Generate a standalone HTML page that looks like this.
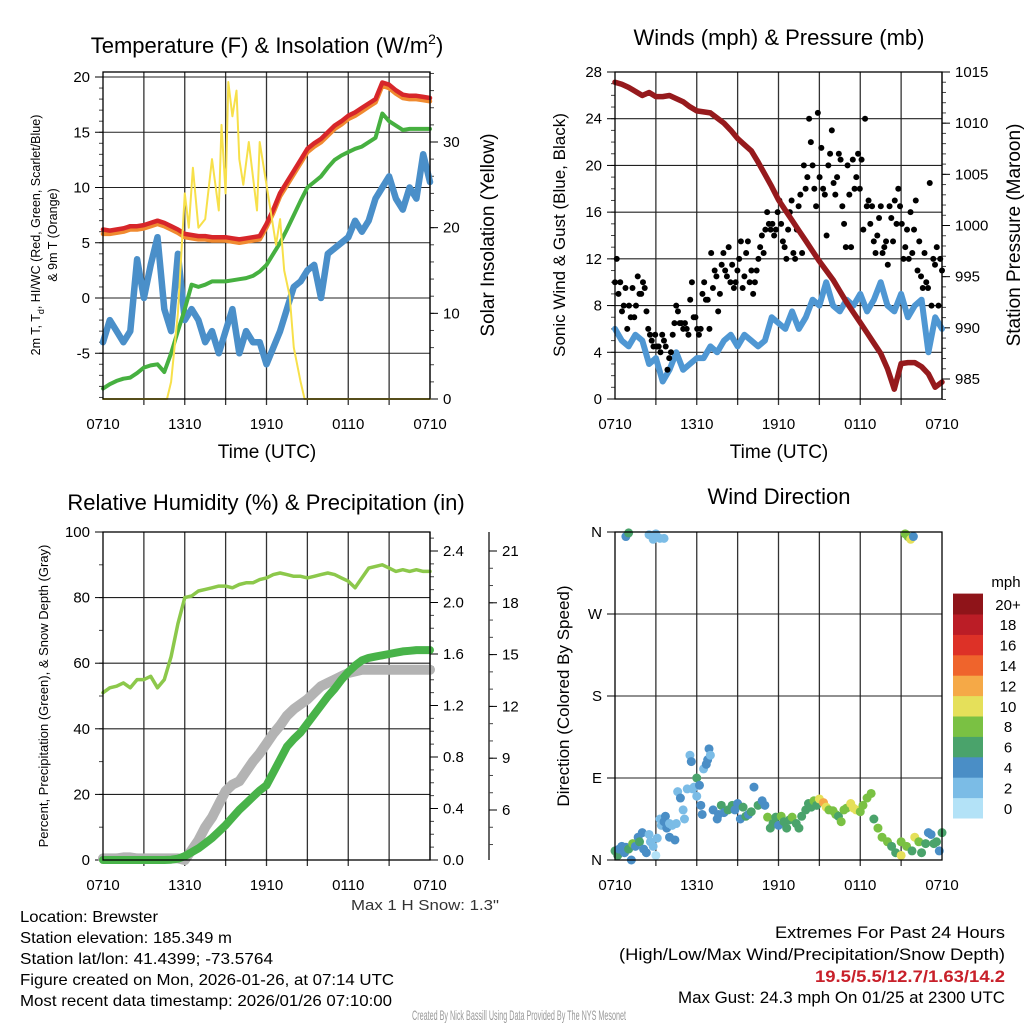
<!DOCTYPE html>
<html><head><meta charset="utf-8"><style>
html,body{margin:0;padding:0;background:#fff}
svg{display:block;font-family:"Liberation Sans",sans-serif}
</style></head><body>
<svg id="fig" xmlns="http://www.w3.org/2000/svg" width="1024" height="1024" viewBox="0 0 1024 1024">
<rect width="1024" height="1024" fill="#fff"/>
<text x="267" y="53" font-size="22" text-anchor="middle">Temperature (F) &amp; Insolation (W/m<tspan dy="-9" font-size="14">2</tspan><tspan dy="9">)</tspan></text>
<text x="779" y="45" font-size="22" text-anchor="middle">Winds (mph) &amp; Pressure (mb)</text>
<text x="266" y="510" font-size="22" text-anchor="middle">Relative Humidity (%) &amp; Precipitation (in)</text>
<text x="779" y="504" font-size="22" text-anchor="middle">Wind Direction</text>
<g id="layer"></g>
<text x="425" y="910" font-size="15" text-anchor="middle" fill="#333" textLength="148" lengthAdjust="spacingAndGlyphs">Max 1 H Snow: 1.3"</text>
<g font-size="16" fill="#000">
<text x="20" y="922" textLength="138" lengthAdjust="spacingAndGlyphs">Location: Brewster</text>
<text x="20" y="943" textLength="212" lengthAdjust="spacingAndGlyphs">Station elevation: 185.349 m</text>
<text x="20" y="964" textLength="253" lengthAdjust="spacingAndGlyphs">Station lat/lon: 41.4399; -73.5764</text>
<text x="20" y="985" textLength="374" lengthAdjust="spacingAndGlyphs">Figure created on Mon, 2026-01-26, at 07:14 UTC</text>
<text x="20" y="1006" textLength="372" lengthAdjust="spacingAndGlyphs">Most recent data timestamp: 2026/01/26 07:10:00</text>
</g>
<g font-size="17" text-anchor="end">
<text x="1005" y="938" textLength="230" lengthAdjust="spacingAndGlyphs">Extremes For Past 24 Hours</text>
<text x="1005" y="960" textLength="386" lengthAdjust="spacingAndGlyphs">(High/Low/Max Wind/Precipitation/Snow Depth)</text>
<text x="1005" y="982" textLength="190" lengthAdjust="spacingAndGlyphs" fill="#c8202a" font-weight="bold">19.5/5.5/12.7/1.63/14.2</text>
<text x="1005" y="1003" textLength="327" lengthAdjust="spacingAndGlyphs">Max Gust: 24.3 mph On 01/25 at 2300 UTC</text>
</g>
<text x="519" y="1020" font-size="14" text-anchor="middle" fill="#999" textLength="214" lengthAdjust="spacingAndGlyphs">Created By Nick Bassill Using Data Provided By The NYS Mesonet</text>
</svg>
<script>
// ---------- data ----------
const xTickLabels = ["0710","1310","1910","0110","0710"];
const tempRed = [6.2,6.1,6.2,6.3,6.5,6.5,6.6,6.8,7.0,6.8,6.5,6.2,5.8,5.7,5.6,5.6,5.5,5.5,5.5,5.4,5.3,5.4,5.5,5.6,6.7,8.0,9.5,10.5,11.5,12.5,13.5,14.0,14.4,15.0,15.6,16.0,16.5,16.8,17.2,17.6,18.0,19.5,19.3,18.8,18.4,18.3,18.3,18.2,18.1];
const tempOrange = [5.8,5.8,5.9,6.0,6.2,6.2,6.3,6.5,6.7,6.5,6.2,5.9,5.5,5.4,5.3,5.3,5.2,5.2,5.2,5.1,5.0,5.1,5.2,5.3,6.4,7.7,9.2,10.2,11.2,12.2,13.2,13.7,14.1,14.7,15.3,15.7,16.2,16.5,16.9,17.3,17.7,19.2,19.0,18.5,18.1,18.0,18.0,17.9,17.8];
const dewGreen = [-8.2,-7.8,-7.5,-7.3,-7.2,-6.8,-6.3,-6.1,-6.0,-6.7,-5.0,-3.0,-1.0,1.2,1.0,1.2,1.5,1.5,1.5,1.6,1.7,1.8,2.0,2.4,3.0,4.0,5.0,6.2,7.5,8.8,10.0,10.5,11.0,11.8,12.5,12.9,13.2,13.5,13.7,14.1,14.5,16.7,16.0,15.6,15.2,15.3,15.3,15.3,15.3];
const chillBlue = [-4,-2,-3,-4,-3,3.5,0,3,5.5,-1,-3,4,-2,-1,-2,-4,-3,-5,-3,-1,-5,-3,-4,-4,-6,-4.5,-3,-1,1,1.5,2.5,3,0,4,4.5,5,5.5,7,6,7,9,10,11,9,8,10,9,13,10.5];
const insTimes = [0,4.7,5,5.5,6,6.3,6.6,7,7.5,8,8.5,8.7,9,9.2,9.5,9.8,10,10.3,10.7,11,11.3,11.5,12,12.3,12.7,13,13.3,13.7,14,14.5,14.8,24];
const insValues = [0,0,2,10,24,20,27,20,21,28,22,32,24,37,33,36,28,25,30,26,22,30,25,22,18,21,15,12,6,2,0,0];
const pressure = [1014.0,1013.8,1013.5,1013.1,1012.7,1013.0,1012.6,1012.6,1012.7,1012.4,1012.1,1011.6,1011.2,1011.1,1011.0,1010.5,1010.0,1009.3,1008.5,1007.9,1007.3,1006.2,1005.0,1003.8,1002.5,1001.5,1000.5,999.5,998.5,997.5,996.5,995.6,994.7,993.6,992.5,991.5,990.5,989.5,988.5,987.5,986.0,984.0,986.5,986.6,986.6,986.2,985.5,984.2,984.7];
const windBlue = [6,5,4.5,5.5,5,3,3.5,1.5,2.5,4,2.5,3,3.5,3.5,4.5,4,5,5.5,4.5,5.5,5,4.5,5,7,6.5,6,7.5,6,7,8.5,8,10,8,7.5,8.5,8,9,7.5,8.5,10,8,7.5,9,7,8,8.5,4,7,6];
const gusts = [10,12,9,10,7.5,8,9.5,6,8,7,9.5,7,8,10.5,9,9,10,9.5,7.5,6,5.5,5,4.5,5.5,4.5,4.5,4,5.5,5,4.5,2.5,3.5,4,5.5,6.5,8,7.5,6.5,6.5,6,6.5,6,5.5,8.5,10,7,7,6,5.5,6,9,10,8.5,8.5,6,12.5,9.5,11,10.5,7.5,9,11.5,12.5,11,10.5,13,10,11.5,9.5,10,11,12,13.5,9.5,10.5,12.5,13.5,10,11,9,10,11,12,13,14,12.5,14.5,16,15,14.5,15,14,14.5,16,17,15,13.5,13,12,14.5,16,17,12.5,12,14.5,16.5,17.5,12.5,20,18,19,24,22,20,18,16.5,24.5,19,21.5,18,17.5,14,20,21,23,18.5,17.5,19,21,20.5,16.5,15,13,20,17.5,13,20.5,18,19,21,18,20.5,14.5,24,16.5,17,15,16.5,13.5,12.5,14,15.5,16.5,12.5,13,13.5,11.5,16.5,15.5,13.5,17,15,18,16.5,15,12,13,14.5,12,16,12.5,14.5,17,11,13.5,10.5,9.5,12.5,10,9.5,18.5,8,12,11.5,13,8,12,11];
const rhValues = [51,52.5,53,54,52.5,55,55,56,52.5,55,62,72,80,80.5,82,82.5,83,83.5,83.5,83,84,84.5,84.5,85.5,86,87,87.5,87,86.5,86.5,86,86.5,87,87.5,87,86,85,83,86,89,89.5,90,89,88,88.5,88,88.5,88,88];
const precipValues = [0,0,0,0,0,0,0,0,0,0,0.002,0.01,0.03,0.06,0.09,0.13,0.17,0.22,0.27,0.33,0.39,0.44,0.49,0.54,0.58,0.68,0.78,0.88,0.94,0.99,1.06,1.13,1.2,1.27,1.33,1.4,1.46,1.51,1.55,1.57,1.58,1.59,1.6,1.61,1.62,1.625,1.63,1.63,1.63];
const snowValues = [0.5,0.5,0.5,0.8,0.8,0.5,0.5,0.5,0.5,0.5,0.5,0.5,0,3,6,10,13,17,21,23,24,27,30,32.5,35.5,38.5,41,44,46,47.5,49,51,53,54,55,56,57,57.5,58,58,58,58,58,58,58,58,58,58,58];
const dirTimes = [0,0.2,0.3,0.5,0.7,0.8,1,1.2,1.3,1.5,1.7,1.8,2,2.1,2.3,2.5,2.6,2.8,3,3.1,3.3,3.4,3.6,3.7,3.8,4,4,4.2,4.4,4.5,4.6,4.8,5,5.1,5.3,5.5,5.6,5.7,5.8,6,6,6.2,6.3,6.4,6.5,6.7,6.8,6.9,7,7.2,7.5,7.6,7.8,8,8.3,8.6,8.8,9,9.2,9.4,9.6,9.8,10,10.2,10.5,10.8,11,11.2,11.4,11.6,11.8,12,12.2,12.4,12.6,12.8,13,13.3,13.5,13.7,14,14.2,14.4,14.6,14.8,15,15.3,15.5,15.7,16,16.2,16.4,16.6,16.8,17,17.3,17.5,17.7,18,18.2,18.5,18.8,19,19.3,19.6,20,20.3,20.6,21,21,21.4,21.8,22,22.3,22.5,22.8,23,23.2,23.4,23.6,23.8,24,0.8,1,2.5,2.8,3,3.3,3.6,21.3,21.5,21.7,21.9];
const dirDegrees = [10,5,12,15,8,14,12,0,18,15,25,20,30,12,8,28,20,15,5,24,45,38,42,48,35,25,40,38,22,40,75,68,55,45,78,115,108,78,80,90,70,82,60,50,100,105,110,122,115,55,45,50,60,52,55,60,55,62,45,58,48,50,53,80,60,65,60,47,35,40,47,38,48,42,35,44,47,40,35,48,55,62,58,65,60,67,63,58,55,54,50,48,42,55,57,62,57,55,53,60,68,73,45,35,25,20,15,8,20,5,15,10,25,20,8,18,30,28,18,20,10,30,355,359,357,352,358,353,353,358,355,352,355];
const dirSpeeds = [6,6,4,4,3,4,5,4,7,4,4,5,4,4,4,2,2,2,0,2,1,2,4,4,4,4,2,2,4,2,2,3,2,2,2,2,4,2,2,6,2,4,4,4,2,4,4,4,2,4,4,4,6,4,6,6,4,4,4,6,6,4,6,4,6,4,4,8,6,6,6,4,8,6,6,6,8,6,6,6,6,6,6,8,6,10,12,10,8,8,8,6,8,8,8,10,10,10,8,8,8,8,6,8,8,8,6,6,8,10,8,6,10,8,6,6,4,4,6,6,4,6,4,6,2,2,2,2,2,8,8,10,4];
const cbarLabels = ["0","2","4","6","8","10","12","14","16","18","20+"];
const cbarColors = ["#b3e2f7","#7bbce6","#4a8ec6","#4aa36b","#7ac143","#e5e05a","#f5a947","#ef642c","#dd3127","#bb1d26","#8f1419"];

// ---------- helpers ----------
const NS="http://www.w3.org/2000/svg";
const layer=document.getElementById('layer');
function mk(tag,attrs,parent){const e=document.createElementNS(NS,tag);for(const k in attrs)e.setAttribute(k,attrs[k]);(parent||layer).appendChild(e);return e;}
function lin(d0,d1,r0,r1){return v=>r0+(v-d0)*(r1-r0)/(d1-d0);}
function tOf(arr,i){return i*24/(arr.length-1);}
function poly(xs,ys,xf,yf,style,name){
  let d='';for(let i=0;i<xs.length;i++){d+=(i?'L':'M')+xf(xs[i]).toFixed(1)+','+yf(ys[i]).toFixed(1);}
  const p=mk('path',Object.assign({d:d,fill:'none','stroke-linejoin':'round','stroke-linecap':'round'},style));
  
  
  return p;
}
function series(arr,xf,yf,style,name){return poly(arr.map((v,i)=>tOf(arr,i)),arr,xf,yf,style,name);}
function txt(x,y,s,attrs){const t=mk('text',Object.assign({x:x,y:y,'font-size':14},attrs||{}));t.textContent=s;return t;}

function frame(L,R,T,B,name){
  const xf=lin(0,24,L,R);
  const g=mk('g',{});
  
  
  for(let h=3;h<24;h+=3){const l=mk('line',{x1:xf(h),x2:xf(h),y1:T,y2:B+6,stroke:'#333','stroke-width':1.3},g);
    
    }
  xTickLabels.forEach((s,i)=>{const t=txt(xf(i*6),B+30,s,{'text-anchor':'middle','font-size':15});
    
    });
  return xf;
}
function hgrid(yf,vals,L,R){vals.forEach(v=>{const l=mk('line',{x1:L,x2:R,y1:yf(v),y2:yf(v),stroke:'#222','stroke-width':1.1});
  
  });}
function leftTicks(yf,vals,labels,L,minor){
  minor.forEach(v=>{const l=mk('line',{x1:L-4,x2:L,y1:yf(v),y2:yf(v),stroke:'#444'});
    
    });
  vals.forEach((v,i)=>{const l=mk('line',{x1:L-8,x2:L,y1:yf(v),y2:yf(v),stroke:'#000'});
    
    
    const t=txt(L-13,yf(v)+5,labels[i],{'text-anchor':'end','font-size':15});
    
    });
}
function rightTicks(yf,vals,labels,R,minor,top,bot){
  const ax=mk('line',{x1:R,x2:R,y1:top,y2:bot,stroke:'#000','stroke-width':1.2});
  
  
  minor.forEach(v=>{const l=mk('line',{x1:R,x2:R+4,y1:yf(v),y2:yf(v),stroke:'#444'});
    
    });
  vals.forEach((v,i)=>{const l=mk('line',{x1:R,x2:R+8,y1:yf(v),y2:yf(v),stroke:'#000'});
    
    
    const t=txt(R+13,yf(v)+5,labels[i],{'font-size':15});
    
    });
}
function range(a,b,s){const r=[];for(let v=a;v<=b+1e-9;v+=s)r.push(+v.toFixed(4));return r;}
function rotLabel(x,y,s,fs,name){const t=txt(x,y,s,{'font-size':fs,'text-anchor':'middle',transform:`rotate(-90 ${x} ${y})`});
  
  return t;}
function box(L,R,T,B){const r=mk('rect',{x:L,y:T,width:R-L,height:B-T,fill:'none',stroke:'#000','stroke-width':1.3});
  
  }

// ---------- panel 1 ----------
(function(){
  const L=103,R=430,T=72,B=399;
  const xf=frame(L,R,T,B,'temp');
  const yf=lin(0,20,298,77), yr=lin(0,30,399,142);
  hgrid(yf,[-5,0,5,10,15,20],L,R);
  leftTicks(yf,[-5,0,5,10,15,20],['-5','0','5','10','15','20'],L,range(-9,20,1));
  rightTicks(yr,[0,10,20,30],['0','10','20','30'],R,range(0,38,2),T,B);
  series(chillBlue,xf,yf,{stroke:'#4a8fc9','stroke-width':6.5},'wind-chill-line');
  series(dewGreen,xf,yf,{stroke:'#46b040','stroke-width':4},'dewpoint-line');
  series(tempOrange,xf,yf,{stroke:'#f08a30','stroke-width':4.5},'temp-9m-line');
  series(tempRed,xf,yf,{stroke:'#d7262a','stroke-width':4.5},'temp-2m-line');
  poly(insTimes,insValues,xf,yr,{stroke:'#f7e04a','stroke-width':2},'insolation-line');
  box(L,R,T,B);
  const t=txt(267,458,'Time (UTC)',{'font-size':19,'text-anchor':'middle'});
  
  
  const a=rotLabel(40,235,'2m T, T',12.5,'y-axis-title-line1');
  const sub=document.createElementNS(NS,'tspan');sub.setAttribute('dy','4');sub.setAttribute('font-size','9');sub.textContent='d';a.appendChild(sub);
  const rest=document.createElementNS(NS,'tspan');rest.setAttribute('dy','-4');rest.textContent=', HI/WC (Red, Green, Scarlet/Blue)';a.appendChild(rest);
  rotLabel(57,235,'& 9m T (Orange)',12.5,'y-axis-title-line2');
  rotLabel(494,235,'Solar Insolation (Yellow)',19,'right-axis-title');
})();

// ---------- panel 2 ----------
(function(){
  const L=615,R=942,T=72,B=399;
  const xf=frame(L,R,T,B,'wind');
  const yf=lin(0,28,399,72), yr=lin(985,1015,379,72);
  hgrid(yf,[4,8,12,16,20,24,28],L,R);
  leftTicks(yf,range(0,28,4),range(0,28,4).map(String),L,range(0,28,1));
  rightTicks(yr,range(985,1015,5),range(985,1015,5).map(String),R,range(983,1015,1),T,B);
  series(windBlue,xf,yf,{stroke:'#4f97d3','stroke-width':6},'sonic-wind-line');
  const g=mk('g',{});
  
  
  gusts.forEach((v,i)=>{const c=mk('circle',{cx:xf(tOf(gusts,i)),cy:yf(v),r:3,fill:'#000'},g);
    
    });
  series(pressure,xf,yr,{stroke:'#961a1d','stroke-width':5.5},'pressure-line');
  box(L,R,T,B);
  const t=txt(779,458,'Time (UTC)',{'font-size':19,'text-anchor':'middle'});
  
  
  rotLabel(565,235,'Sonic Wind & Gust (Blue, Black)',17,'y-axis-title');
  rotLabel(1020,235,'Station Pressure (Maroon)',19,'right-axis-title');
})();

// ---------- panel 3 ----------
(function(){
  const L=103,R=430,T=532,B=860;
  const xf=frame(L,R,T,B,'rh');
  const yf=lin(0,100,860,532), yp=lin(0,2.4,860,551);
  hgrid(yf,[20,40,60,80,100],L,R);
  leftTicks(yf,range(0,100,20),range(0,100,20).map(String),L,range(0,100,10));
  rightTicks(yp,range(0,2.4,0.4),['0.0','0.4','0.8','1.2','1.6','2.0','2.4'],R,range(0,2.5,0.1),T,B);
  const ys=lin(6,21,810,551);
  rightTicks(ys,[6,9,12,15,18,21],['6','9','12','15','18','21'],489,range(4,21,1),T,B);
  series(snowValues,xf,yf,{stroke:'#b3b3b3','stroke-width':10},'snow-depth-line');
  series(precipValues,xf,yp,{stroke:'#48b349','stroke-width':8},'precip-line');
  series(rhValues,xf,yf,{stroke:'#8cc84b','stroke-width':3.5},'rh-line');
  box(L,R,T,B);
  rotLabel(48,696,'Percent, Precipitation (Green), & Snow Depth (Gray)',13,'y-axis-title');
})();

// ---------- panel 4 ----------
(function(){
  const L=615,R=942,T=532,B=860;
  const xf=frame(L,R,T,B,'dir');
  const yf=lin(0,360,860,532);
  hgrid(yf,[90,180,270,360],L,R);
  leftTicks(yf,[0,90,180,270,360],['N','E','S','W','N'],L,[]);
  const g=mk('g',{});
  
  
  dirTimes.forEach((h,i)=>{const bin=Math.min(10,Math.round(dirSpeeds[i]/2));
    const c=mk('circle',{cx:xf(h),cy:yf(dirDegrees[i]),r:4.5,fill:cbarColors[bin]},g);
    
    });
  box(L,R,T,B);
  rotLabel(569,696,'Direction (Colored By Speed)',17,'y-axis-title');
  const cb=mk('g',{});
  
  
  const h=20.4;
  cbarColors.forEach((c,i)=>{const y=818-(i+1)*h;
    const r=mk('rect',{x:953,y:y,width:30,height:h+0.5,fill:c},cb);
    
    
    const t=txt(1008,y+h/2+6,cbarLabels[i],{'font-size':15,'text-anchor':'middle'});
    
    });
  const u=txt(1006,587,'mph',{'font-size':15,'text-anchor':'middle'});
  
  
})();
</script>
</body></html>
